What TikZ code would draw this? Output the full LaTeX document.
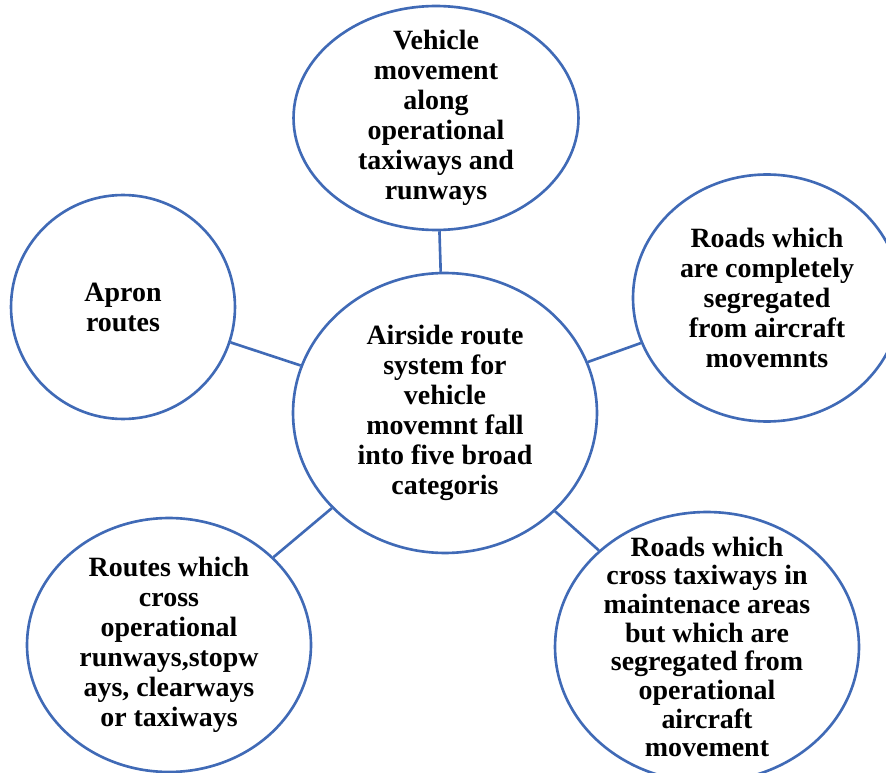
\documentclass[tikz,border=0pt]{standalone}
\usepackage{fontspec}
\setmainfont{Liberation Serif}
\usetikzlibrary{shapes.geometric}
\definecolor{ringblue}{RGB}{64,106,182}
\begin{document}
\begin{tikzpicture}[x=0.02cm,y=-0.02cm,
        bubble/.style={ellipse,draw=ringblue,line width=1.5pt,inner sep=0pt},
        txt/.style={align=center,inner sep=0pt,font=\fontsize{15.9}{17.1}\selectfont\bfseries},
        link/.style={draw=ringblue,line width=1.5pt}]
        \useasboundingbox (0,0) rectangle (886,773);
        \clip (0,0) rectangle (886,773);
        \node[bubble,minimum width=6.08cm,minimum height=5.6cm] (hub) at (445,413) {};
        \node[bubble,minimum width=5.7cm,minimum height=4.48cm] (along) at (436,118) {};
        \node[bubble,minimum width=4.48cm,minimum height=4.48cm] (apron) at (123,307) {};
        \node[bubble,minimum width=5.36cm,minimum height=4.94cm] (segr) at (767,298) {};
        \node[bubble,minimum width=5.68cm,minimum height=5.08cm] (cross) at (169,645) {};
        \node[bubble,minimum width=6.08cm,minimum height=5.4cm] (maint) at (707,647) {};
        \node[txt] (hub-t) at (hub) {Airside route\\system for\\vehicle\\movemnt fall\\into five broad\\categoris};
        \node[txt] (along-t) at (along) {Vehicle\\movement\\along\\operational\\taxiways and\\runways};
        \node[txt] (apron-t) at (apron) {Apron\\routes};
        \node[txt] (segr-t) at (segr) {Roads which\\are completely\\segregated\\from aircraft\\movemnts};
        \node[txt] (cross-t) at (cross) {Routes which\\cross\\operational\\runways,stopw\\ays, clearways\\or taxiways};
        \node[txt,font=\fontsize{15.9}{16.3}\selectfont\bfseries] (maint-t) at (maint) {Roads which\\cross taxiways in\\maintenace areas\\but which are\\segregated from\\operational\\aircraft\\movement};
        \draw[link] (hub) -- (along);
        \draw[link] (hub) -- (apron);
        \draw[link] (hub) -- (segr);
        \draw[link] (hub) -- (cross);
        \draw[link] (hub) -- (maint);
    \end{tikzpicture}
\end{document}
